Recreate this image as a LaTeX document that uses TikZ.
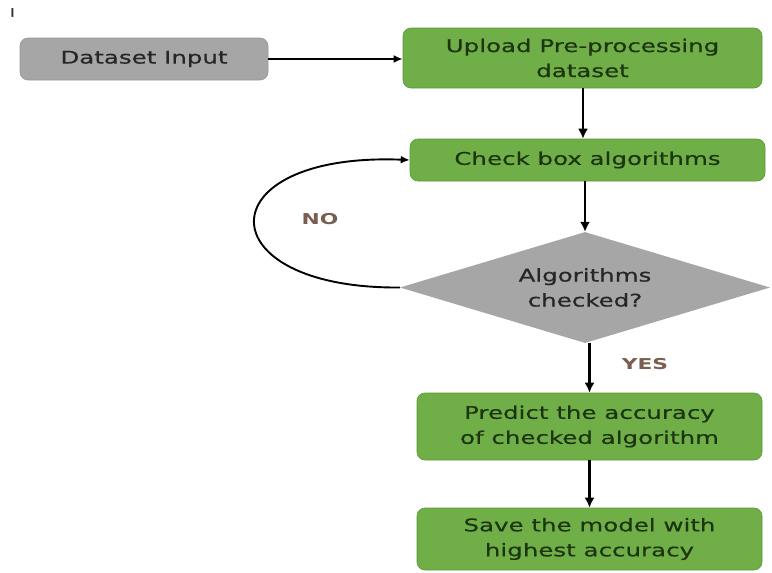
\documentclass[tikz,border=0pt]{standalone}
\usepackage{fontspec}
\usetikzlibrary{shapes.geometric,arrows.meta}
\newfontfamily\boxfont[FakeStretch=1.4,FakeBold=0.5]{DejaVu Sans}
\newfontfamily\lblfont[FakeStretch=1.45]{DejaVu Sans}
\definecolor{gfill}{HTML}{70AF48}
\definecolor{gdraw}{HTML}{5C9638}
\definecolor{gtext}{HTML}{1C3510}
\definecolor{grayfill}{HTML}{A6A6A6}
\definecolor{lbl}{HTML}{7A5E50}
\begin{document}
\begin{tikzpicture}[x=1pt,y=-1pt,
  greenbox/.style={rectangle, rounded corners=8pt, fill=gfill, draw=gdraw, line width=0.6pt,
    text=gtext, font=\boxfont\fontsize{17.5}{25}\selectfont, align=center, inner sep=0pt},
  graybox/.style={rectangle, rounded corners=8pt, fill=grayfill, draw=grayfill!90!black, line width=0.6pt,
    text=black!85, font=\boxfont\fontsize{17.5}{25}\selectfont, align=center, inner sep=0pt},
  decision/.style={diamond, aspect=3.33, fill=grayfill, draw=none, inner sep=0pt,
    text=black!85, font=\boxfont\fontsize{17.5}{25}\selectfont, align=center},
  flow/.style={-{Latex[length=10pt,width=10pt]}, line width=2.6pt, black},
  thinflow/.style={-{Latex[length=9pt,width=8pt]}, line width=1.9pt, black},
  tag/.style={text=lbl, font=\lblfont\bfseries\fontsize{15}{17}\selectfont, inner sep=0pt}
]
\useasboundingbox (0,0) rectangle (772,573);

\node[text=black!80, font=\sffamily\bfseries\fontsize{13}{14}\selectfont, inner sep=0pt] (mark) at (12.5,13) {I};

\node[graybox, minimum width=248pt, minimum height=42pt] (inp) at (144,59) {Dataset Input};
\node[greenbox, minimum width=359pt, minimum height=60pt] (up) at (582.5,58) {Upload Pre-processing\\dataset};
\node[greenbox, minimum width=355pt, minimum height=42pt] (chk) at (587.5,160) {Check box algorithms};
\node[decision, minimum width=370pt, minimum height=111pt] (dia) at (585,287.5) {Algorithms\\checked?};
\node[greenbox, minimum width=345pt, minimum height=67pt] (pred) at (589.5,426.5) {Predict the accuracy\\of checked algorithm};
\node[greenbox, minimum width=345pt, minimum height=62pt] (save) at (589.5,539) {Save the model with\\highest accuracy};

\node[tag] (no) at (320,219) {NO};
\node[tag] (yes) at (645,364) {YES};

\draw[thinflow] (inp.east) -- (up.west |- inp.east);
\draw[flow] (up.south -| 583,0) -- (chk.north -| 583,0);
\draw[flow] (chk.south -| dia.north) -- (dia.north);
\draw[flow] (dia.south -| pred.north) -- (pred.north);
\draw[flow] (pred.south) -- (save.north);
\draw[thinflow] (dia.west) .. controls (205,289) and (205,152) .. (chk.west);
\end{tikzpicture}
\end{document}
